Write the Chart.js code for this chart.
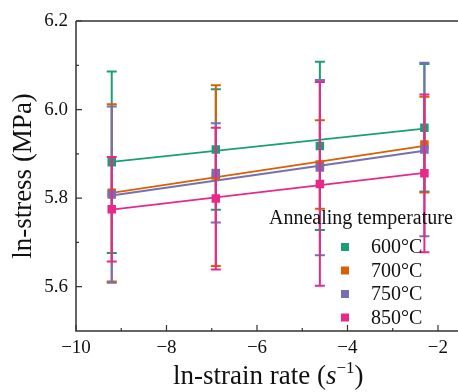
<!DOCTYPE html>
<html>
<head>
<meta charset="utf-8">
<script src="https://cdn.jsdelivr.net/npm/chart.js@4.4.0/dist/chart.umd.min.js"></script>
<style>
html, body { margin: 0; padding: 0; background: #fff; overflow: hidden; }
#wrap { width: 458px; height: 392px; overflow: hidden; }
#box { width: 470px; height: 392px; }
</style>
</head>
<body>
<div id="wrap"><div id="box"><canvas id="c"></canvas></div></div>
<script>
// data
var strainRate = [-9.21, -6.91, -4.61, -2.30];
var temps = ['600°C', '700°C', '750°C', '850°C'];
var legendTitle = 'Annealing temperature';
var colors = ['#1B9E77', '#D95F02', '#7570B3', '#E7298A'];

var stress600 = [5.881, 5.910, 5.918, 5.959];
var stress700 = [5.812, 5.851, 5.876, 5.921];
var stress750 = [5.808, 5.857, 5.869, 5.910];
var stress850 = [5.775, 5.799, 5.832, 5.856];

var err600 = [0.205, 0.136, 0.190, 0.144];
var err700 = [0.200, 0.204, 0.100, 0.108];
var err750 = [0.199, 0.112, 0.198, 0.196];
var err850 = [0.118, 0.160, 0.230, 0.178];

// linear fit lines, start and end value
var fit600 = [5.882, 5.957];
var fit700 = [5.812, 5.918];
var fit750 = [5.806, 5.907];
var fit850 = [5.774, 5.857];

var xTicks = [-10, -8, -6, -4, -2];
var xMinor = [-9, -7, -5, -3];
var yTicks = [5.6, 5.8, 6.0, 6.2];
var yMinor = [5.7, 5.9, 6.1];

var serif = '"Liberation Serif", "Times New Roman", serif';
var stress = [stress600, stress700, stress750, stress850];
var errs = [err600, err700, err750, err850];
var fits = [fit600, fit700, fit750, fit850];

var datasets = [];
for (var i = 0; i < 4; i++) {
  datasets.push({
    type: 'line',
    data: [{x: strainRate[0], y: fits[i][0]}, {x: strainRate[strainRate.length - 1], y: fits[i][1]}],
    borderColor: colors[i],
    borderWidth: 1.8,
    pointRadius: 0,
    order: 20 - i
  });
  datasets.push({
    type: 'line',
    label: temps[i],
    data: strainRate.map(function (x, j) { return {x: x, y: stress[i][j]}; }),
    showLine: false,
    pointStyle: 'rect',
    pointRadius: 6,
    pointBackgroundColor: colors[i],
    pointBorderColor: colors[i],
    pointBorderWidth: 0,
    errors: errs[i],
    order: 10 - i
  });
}

//error bars, drawn just before each marker set
var errorBars = {
  id: 'errorBars',
  beforeDatasetDraw: function (chart, args) {
    var ds = chart.data.datasets[args.index];
    if (!ds.errors) return;
    var ctx = chart.ctx, ys = chart.scales.y;
    ctx.save();
    ctx.strokeStyle = ds.pointBackgroundColor;
    ctx.lineWidth = 2;
    args.meta.data.forEach(function (pt, j) {
      var top = ys.getPixelForValue(ds.data[j].y + ds.errors[j]);
      var bot = ys.getPixelForValue(ds.data[j].y - ds.errors[j]);
      ctx.beginPath();
      ctx.moveTo(pt.x, top); ctx.lineTo(pt.x, bot);
      ctx.moveTo(pt.x - 5, top); ctx.lineTo(pt.x + 5, top);
      ctx.moveTo(pt.x - 5, bot); ctx.lineTo(pt.x + 5, bot);
      ctx.stroke();
    });
    ctx.restore();
  }
};

//frame, inward ticks, axis titles and legend
var decorations = {
  id: 'decorations',
  afterDraw: function (chart) {
    var ctx = chart.ctx, a = chart.chartArea;
    var xs = chart.scales.x, ys = chart.scales.y;
    ctx.save();
    ctx.strokeStyle = '#333';
    ctx.lineWidth = 1.5;
    ctx.beginPath();
    ctx.moveTo(a.left, a.top); ctx.lineTo(a.right, a.top);
    ctx.moveTo(a.left, a.top); ctx.lineTo(a.left, a.bottom);
    ctx.lineTo(a.right, a.bottom);
    ctx.stroke();

    ctx.lineWidth = 1.2;
    ctx.beginPath();
    xTicks.forEach(function (v) { var p = xs.getPixelForValue(v); ctx.moveTo(p, a.bottom); ctx.lineTo(p, a.bottom - 6); });
    xMinor.forEach(function (v) { var p = xs.getPixelForValue(v); ctx.moveTo(p, a.bottom); ctx.lineTo(p, a.bottom - 3); });
    yTicks.forEach(function (v) { var p = ys.getPixelForValue(v); ctx.moveTo(a.left, p); ctx.lineTo(a.left + 6, p); });
    yMinor.forEach(function (v) { var p = ys.getPixelForValue(v); ctx.moveTo(a.left, p); ctx.lineTo(a.left + 3, p); });
    ctx.stroke();

    // y title
    ctx.fillStyle = '#111';
    ctx.save();
    ctx.translate(24, (a.top + a.bottom) / 2);
    ctx.rotate(-Math.PI / 2);
    ctx.font = '27px ' + serif;
    ctx.textAlign = 'center';
    ctx.textBaseline = 'middle';
    ctx.fillText('ln-stress (MPa)', 0, 0);
    ctx.restore();

    // x title with italic s and superscript
    var parts = [
      {t: 'ln-strain rate (', f: '27px ' + serif, dy: 0},
      {t: 's', f: 'italic 27px ' + serif, dy: 0},
      {t: '\u22121', f: '17px ' + serif, dy: -11},
      {t: ')', f: '27px ' + serif, dy: 0}
    ];
    var total = 0;
    parts.forEach(function (p) { ctx.font = p.f; p.w = ctx.measureText(p.t).width; total += p.w; });
    var x = (a.left + a.right) / 2 - total / 2;
    ctx.textAlign = 'left';
    ctx.textBaseline = 'alphabetic';
    parts.forEach(function (p) { ctx.font = p.f; ctx.fillText(p.t, x, 384 + p.dy); x += p.w; });

    // legend
    ctx.font = '20px ' + serif;
    ctx.fillText(legendTitle, 269, 224);
    temps.forEach(function (t, k) {
      var cy = 247 + k * 23.5;
      ctx.fillStyle = colors[k];
      ctx.fillRect(341, cy - 4, 8, 8);
      ctx.fillStyle = '#111';
      ctx.textBaseline = 'middle';
      ctx.fillText(t, 371, cy + 1);
    });
    ctx.restore();
  }
};

function minus(v) { return v < 0 ? '\u2212' + Math.abs(v) : String(v); }

new Chart(document.getElementById('c'), {
  type: 'line',
  data: {datasets: datasets},
  options: {
    responsive: true,
    maintainAspectRatio: false,
    animation: false,
    devicePixelRatio: 1,
    layout: {padding: {top: 21, right: 9.4, left: 0, bottom: 0}},
    plugins: {legend: {display: false}, tooltip: {enabled: false}},
    scales: {
      x: {
        type: 'linear', min: -10, max: -1.5,
        afterBuildTicks: function (s) { s.ticks = xTicks.map(function (v) { return {value: v}; }); },
        afterFit: function (s) { s.height = 61; },
        grid: {display: false, drawTicks: false},
        border: {display: false},
        ticks: {padding: 6, color: '#111', font: {family: serif, size: 19}, maxRotation: 0, autoSkip: false,
          callback: function (v) { return minus(v); }}
      },
      y: {
        type: 'linear', min: 5.5, max: 6.2,
        afterBuildTicks: function (s) { s.ticks = yTicks.map(function (v) { return {value: v}; }); },
        afterFit: function (s) { s.width = 76; },
        grid: {display: false, drawTicks: false},
        border: {display: false},
        ticks: {padding: 8, color: '#111', font: {family: serif, size: 19},
          callback: function (v) { return v.toFixed(1); }}
      }
    }
  },
  plugins: [errorBars, decorations]
});
</script>
</body>
</html>
